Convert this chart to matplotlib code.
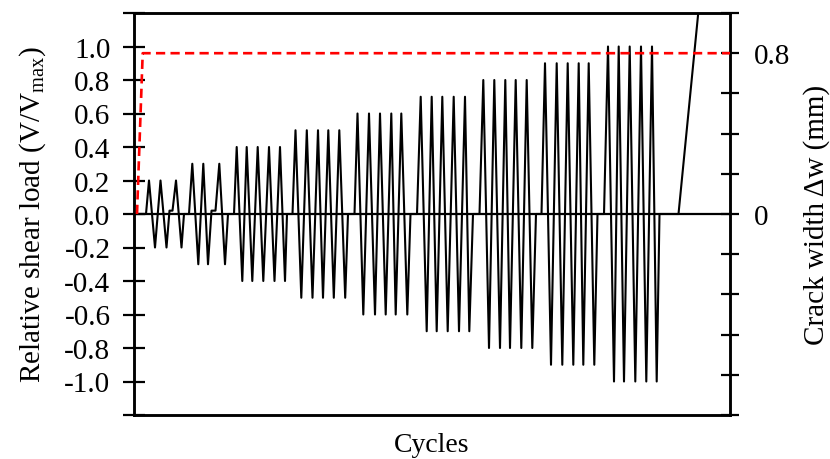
import numpy as np
import matplotlib
matplotlib.use("Agg")
import matplotlib.pyplot as plt

plt.rcParams["font.family"] = ["Liberation Serif", "DejaVu Serif"]
plt.rcParams["mathtext.fontset"] = "custom"
plt.rcParams["mathtext.rm"] = "Liberation Serif"
plt.rcParams["mathtext.it"] = "Liberation Serif:italic"

# --- load history (time in arbitrary cycle-time units) ---
amps = [0.2, 0.3, 0.4, 0.5, 0.6, 0.7, 0.8, 0.9, 1.0]
starts = [12, 55, 100, 158.5, 220.5, 283, 345.5, 407.5, 470]
ends = [50, 94, 153, 214, 276.5, 339, 402, 463.5, 525.5]
peaks = [
    [15, 26.5, 42],
    [58.3, 69.3, 85.3],
    [102.7, 112.7, 123.7, 135, 146],
    [161.5, 172.8, 184, 194.3, 205.3],
    [223.5, 235, 246, 257.3, 267.3],
    [286.7, 297.7, 308.3, 319.7, 331],
    [349.3, 360.3, 371.3, 381.7, 392.7],
    [411, 422.7, 433.7, 444.7, 454.7],
    [474, 484.7, 495.7, 507, 518],
]
troughs = [
    [21, 32.5, 47.5],
    [64.3, 74, 91],
    [108.3, 118.3, 129.3, 140.5, 151],
    [167.3, 178.5, 189, 199.8, 211.2],
    [229.3, 241, 251.7, 261.7, 273.3],
    [292.7, 302.7, 313.7, 325, 335.3],
    [355, 366, 376, 387.3, 398.3],
    [417, 428.3, 439.3, 449.3, 460.3],
    [480, 490, 501.3, 512.3, 522.7],
]
# short hold just above zero between 2nd and 3rd cycle of the first two steps
holds = {0: (35.5, 38.5, 0.02), 1: (77.5, 81.5, 0.02)}

# final monotonic ramp to failure
ramp_t = [544.5, 570]
ramp_v = [0.0, 1.55]

# crack width (right axis, mm)
crack_t = [3, 8.7, 596]
crack_w = [0.0, 0.8, 0.8]

# build the load polyline
load_t, load_v = [0.0], [0.0]
for i, a in enumerate(amps):
    pts = [(starts[i], 0.0), (ends[i], 0.0)]
    pts += [(t, a) for t in peaks[i]]
    pts += [(t, -a) for t in troughs[i]]
    if i in holds:
        h0, h1, hv = holds[i]
        pts += [(h0, hv), (h1, hv)]
    pts.sort()
    for t, v in pts:
        load_t.append(t)
        load_v.append(v)
load_t += ramp_t
load_v += ramp_v

fig = plt.figure(figsize=(8.3, 4.6), dpi=100)
ax = fig.add_axes([134 / 830, 44 / 460, 596 / 830, 402 / 460])

ax.axhline(0, color="black", lw=1.6, zorder=2)
ax.plot(load_t, load_v, color="black", lw=1.5, zorder=3)

ax.set_xlim(0, 596)
ax.set_ylim(-1.2, 1.2)
ax.set_xticks([])
yt = np.round(np.arange(-1.2, 1.21, 0.2), 1)
ax.set_yticks(yt)
ax.set_yticklabels(["" if abs(v) > 1.05 else f"{v:.1f}".replace("-0.0", "0.0") for v in yt])
ax.tick_params(axis="y", direction="inout", length=16, width=1.6, labelsize=21, pad=9)
for s in ax.spines.values():
    s.set_linewidth(1.8)
ax.set_ylabel(r"Relative shear load (V/V$_{\rm max}$)", fontsize=21, labelpad=12)
ax.set_xlabel("Cycles", fontsize=20, labelpad=12)

ax2 = ax.twinx()
ax2.plot(crack_t, crack_w, color="#ff0000", lw=1.9, dashes=(3.5, 2), zorder=4)
ax2.set_ylim(-1.0, 1.0)
rt = np.round(np.arange(-1.0, 1.01, 0.2), 1)
ax2.set_yticks(rt)
ax2.set_yticklabels(["0.8" if v == 0.8 else ("0" if v == 0 else "") for v in rt])
ax2.tick_params(axis="y", direction="inout", length=13, width=1.6, labelsize=21, pad=11)
for s in ax2.spines.values():
    s.set_linewidth(1.8)
ax2.set_ylabel("Crack width \u0394w (mm)", fontsize=21, labelpad=9)

fig.savefig("out.png", dpi=100)
